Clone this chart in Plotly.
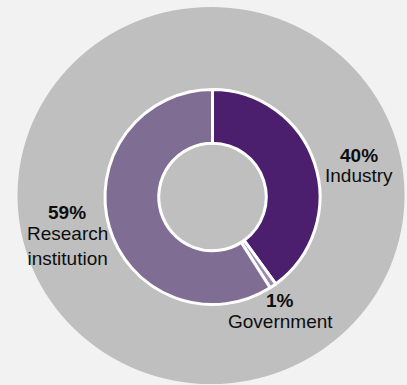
import plotly.graph_objects as go

categories = ["Industry", "Government", "Research institution"]
label_lines = ["Industry", "Government", "Research<br>institution"]
values = [40, 1, 59]
colors = ["#4b1f6e", "#9a8bb0", "#7f6d94"]

W, H = 407, 385

def px(x):
    return x / W

def py(y):
    return 1 - y / H

# donut geometry (pixels)
cx, cy, r = 212.5, 197, 107.5

fig = go.Figure()
fig.add_trace(go.Pie(
    labels=categories,
    values=values,
    sort=False,
    direction="clockwise",
    rotation=0,
    hole=0.5,
    textinfo="none",
    hoverinfo="label+percent",
    marker=dict(colors=colors, line=dict(color="white", width=3)),
    domain=dict(x=[px(cx - r), px(cx + r)], y=[py(cy + r), py(cy - r)]),
    showlegend=False,
))

# big background circle
fig.add_shape(type="circle", xref="paper", yref="paper",
              x0=px(17.5), x1=px(404.5), y0=py(384), y1=py(7),
              fillcolor="#bfbfbf", line=dict(width=0), layer="below")

font = dict(family="Arial, Liberation Sans", size=19, color="#0d0d0d")
# (x center, percent line y, name block y center)
label_pos = [(359, 155, 176), (280, 300, 321), (67, 213, 245.5)]
for name, val, (x, yp, yn) in zip(label_lines, values, label_pos):
    fig.add_annotation(x=px(x), y=py(yp), xref="paper", yref="paper",
                       text=f"<b>{val}%</b>", showarrow=False,
                       xanchor="center", yanchor="middle", font=font)
    fig.add_annotation(x=px(x), y=py(yn), xref="paper", yref="paper",
                       text=name, showarrow=False, align="center",
                       xanchor="center", yanchor="middle", font=font)

fig.update_layout(
    width=W, height=H,
    margin=dict(l=0, r=0, t=0, b=0),
    paper_bgcolor="#f2f2f2",
    plot_bgcolor="#f2f2f2",
)

fig.write_html("out.html")
